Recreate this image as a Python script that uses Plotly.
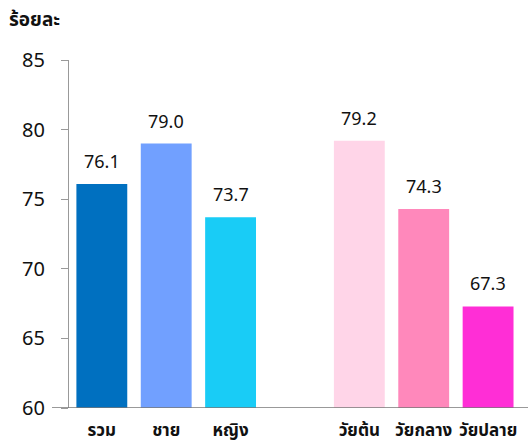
import plotly.graph_objects as go

# data
categories = ["รวม", "ชาย", "หญิง", "วัยต้น", "วัยกลาง", "วัยปลาย"]
values = [76.1, 79.0, 73.7, 79.2, 74.3, 67.3]
colors = ["#0070C0", "#71A0FF", "#19CCF6", "#FFD5E8", "#FF88BB", "#FF2ED6"]
y_ticks = [60, 65, 70, 75, 80, 85]

FONT = "Tahoma, 'Noto Sans Thai', 'Noto Sans', sans-serif"

# blank slot separates the sex group from the age group
cat_order = categories[:3] + [" "] + categories[3:]

fig = go.Figure(go.Bar(
    x=categories, y=values, marker_color=colors, marker_line_width=0,
    hoverinfo="x+y"))

for c, v in zip(categories, values):
    fig.add_annotation(x=c, y=v, text=f"{v:.1f}", showarrow=False,
                       yanchor="bottom", yshift=6,
                       font=dict(family=FONT, size=18, color="#111"))

fig.add_annotation(xref="paper", yref="paper", x=-0.135, y=1.0, yshift=40,
                   xanchor="left", yanchor="middle", text="<b>ร้อยละ</b>",
                   showarrow=False, font=dict(family=FONT, size=19, color="#111"))

# baseline runs a little left of the value axis
fig.add_shape(type="line", xref="paper", yref="y", x0=-0.037, x1=1, y0=60, y1=60,
              line=dict(color="#777", width=1.3))

fig.update_layout(
    width=528, height=445,
    margin=dict(l=69, r=0, t=60, b=37),
    plot_bgcolor="white", paper_bgcolor="white",
    bargap=0.21, showlegend=False,
    font=dict(family=FONT, color="#111"),
    xaxis=dict(categoryorder="array", categoryarray=cat_order,
               range=[-0.51, 6.62], showline=False, ticks="", automargin=False,
               ticklabelstandoff=10,
               tickfont=dict(family=FONT, size=17, color="#111"),
               showgrid=False, zeroline=False),
    yaxis=dict(range=[60, 85], tickvals=y_ticks, showgrid=False, zeroline=False,
               showline=True, linecolor="#999", linewidth=1.3, automargin=False,
               ticks="outside", ticklen=7, tickcolor="#999", tickwidth=1.3,
               ticklabelstandoff=12,
               tickfont=dict(family=FONT, size=20, color="#111")),
)
fig.update_xaxes(tickprefix="<b>", ticksuffix="</b>")

# drop the browser's default 8px body margin so the chart sits at the page corner
fig.write_html("out.html", config={"displayModeBar": False},
               post_script="document.body.style.margin='0';")
